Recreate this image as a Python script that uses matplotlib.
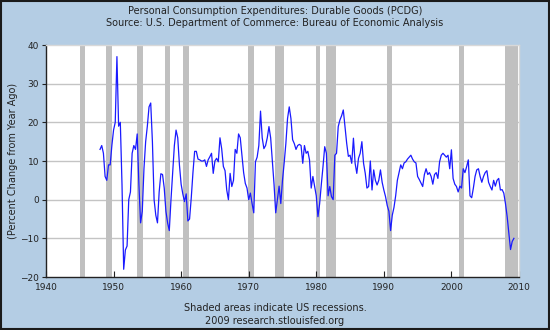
import numpy as np
import matplotlib
matplotlib.use("Agg")
import matplotlib.pyplot as plt
from matplotlib.patches import Rectangle

# quarterly % change from year ago, 1948Q1 .. 2009Q2
pct_change = [
    13, 14, 12, 6,          # 1948
    5, 9, 9, 14,            # 1949
    18, 20, 37, 19,         # 1950
    20, 4, -18, -13,        # 1951
    -12, 0, 2, 12,          # 1952
    14, 13, 17, 4,          # 1953
    -6, -3, 8, 15,          # 1954
    19, 24, 25, 15,         # 1955
    0, -4, -6, 2,           # 1956
    6.7, 6.5, 3, -3,        # 1957
    -6, -8, 0, 7,           # 1958
    14, 18, 16, 9,          # 1959
    4, 1.5, -0.5, 1.5,      # 1960
    -5.5, -5, 0.5, 7,       # 1961
    12.5, 12.5, 10.5, 10.3, # 1962
    10, 10, 10.3, 8.6,      # 1963
    10.3, 11.1, 12, 6.8,    # 1964
    10, 10.7, 9.8, 16,      # 1965
    13.2, 8.6, 7.5, 2.5,    # 1966
    0, 6.8, 3.4, 5,         # 1967
    13, 12, 17, 16,         # 1968
    11.5, 7, 4.2, 3,        # 1969
    0, 1.7, -1, -3.4,       # 1970
    9.8, 11, 14, 22.9,      # 1971
    16, 13.2, 14, 16,       # 1972
    18.9, 16, 10, 4,        # 1973
    -3.4, 0, 3.5, -1,       # 1974
    5, 9.5, 14.5, 21,       # 1975
    24, 21, 15.5, 14.5,     # 1976
    13, 14, 14.3, 14,       # 1977
    9.4, 14, 12, 12.5,      # 1978
    10.3, 3, 6, 3.5,        # 1979
    1, -4.4, -1, 4,         # 1980
    8.6, 13.7, 12, 1,       # 1981
    3.4, 0.8, 0, 11.5,      # 1982
    12, 18.9, 20.6, 21.7,   # 1983
    23.2, 18.9, 14.6, 11.2, # 1984
    11.5, 9.4, 15.9, 9.4,   # 1985
    6.8, 10.7, 12, 15,      # 1986
    9.4, 6.8, 3, 3.4,       # 1987
    10, 2.5, 7.7, 5,        # 1988
    3.8, 5, 7.7, 4.5,       # 1989
    2.5, 0.8, -1.5, -3,     # 1990
    -8, -4, -2, 1,          # 1991
    5, 7, 9, 8,             # 1992
    9.5, 9.8, 10.5, 11,     # 1993
    11.5, 10.5, 9.8, 9.5,   # 1994
    6, 5.2, 4.3, 3.4,       # 1995
    6.5, 8, 6.5, 7,         # 1996
    6, 4, 6.5, 7,           # 1997
    5.5, 9.8, 11.5, 12,     # 1998
    11.5, 11, 11.5, 8,      # 1999
    12.9, 5.5, 4, 3.4,      # 2000
    2, 3.5, 3, 8,           # 2001
    7, 8.5, 10.3, 1,        # 2002
    0.5, 3, 6, 7.7,         # 2003
    8, 6, 4.5, 6,           # 2004
    7, 7.5, 4.5, 3.4,       # 2005
    2.5, 5, 3.5, 5,         # 2006
    5.5, 2.5, 2.6, 1.7,     # 2007
    -1, -4.4, -8.6, -12.9,  # 2008
    -10.8, -10,             # 2009
]
start_year = 1948.0

# NBER recessions (decimal years)
rec_start = [1945.1, 1948.85, 1953.5, 1957.6, 1960.25, 1969.92, 1973.85, 1980.0, 1981.5, 1990.5, 2001.17, 2007.92]
rec_end = [1945.75, 1949.75, 1954.35, 1958.3, 1961.1, 1970.85, 1975.2, 1980.5, 1982.85, 1991.2, 2001.85, 2009.85]

x_ticks = [1940, 1950, 1960, 1970, 1980, 1990, 2000, 2010]
y_ticks = [-20, -10, 0, 10, 20, 30, 40]

bg = '#b4cde4'
txt = '#222222'

years = start_year + np.arange(len(pct_change)) / 4.0

fig = plt.figure(figsize=(5.5, 3.3), dpi=100, facecolor=bg)
ax = fig.add_axes([0.0836, 0.1606, 0.86, 0.703])
ax.set_facecolor('white')

for s, e in zip(rec_start, rec_end):
    ax.axvspan(s, e, color='#c0c0c0', lw=0, zorder=1)

for yv in y_ticks[1:-1]:
    ax.axhline(yv, color='#c4c4c4', lw=1, zorder=0.5)

ax.plot(years, pct_change, color='#1a1aff', lw=0.9, zorder=3)

ax.set_xlim(1940, 2010)
ax.set_ylim(-20, 40)
ax.set_xticks(x_ticks)
ax.set_yticks(y_ticks)
ax.tick_params(axis='x', direction='in', length=4, width=0.8, colors=txt, labelsize=6.5, pad=4)
ax.tick_params(axis='y', direction='out', length=3, width=0.8, colors=txt, labelsize=6.5, pad=2)

for side in ['left', 'bottom']:
    ax.spines[side].set_color('#222222')
    ax.spines[side].set_linewidth(1.0)
for side in ['top', 'right']:
    ax.spines[side].set_color('#d8d8d8')
    ax.spines[side].set_linewidth(1.0)

ax.set_ylabel('(Percent Change from Year Ago)', fontsize=7, color=txt, va='center')
ax.yaxis.set_label_coords(-0.069, 0.5)

fig.text(0.5, 1 - 11 / 330, 'Personal Consumption Expenditures: Durable Goods (PCDG)',
         ha='center', va='center', fontsize=7, color=txt)
fig.text(0.5, 1 - 23 / 330, 'Source: U.S. Department of Commerce: Bureau of Economic Analysis',
         ha='center', va='center', fontsize=7, color=txt)
fig.text(0.5, 1 - 308 / 330, 'Shaded areas indicate US recessions.',
         ha='center', va='center', fontsize=7, color=txt)
fig.text(0.5, 1 - 321 / 330, '2009 research.stlouisfed.org',
         ha='center', va='center', fontsize=7, color=txt)

fig.patches.append(Rectangle((0.001, 0.002), 0.997, 0.996, transform=fig.transFigure,
                             fill=False, edgecolor='#1a1a1a', lw=1.5))

fig.savefig('out.png', dpi=100, facecolor=bg)
